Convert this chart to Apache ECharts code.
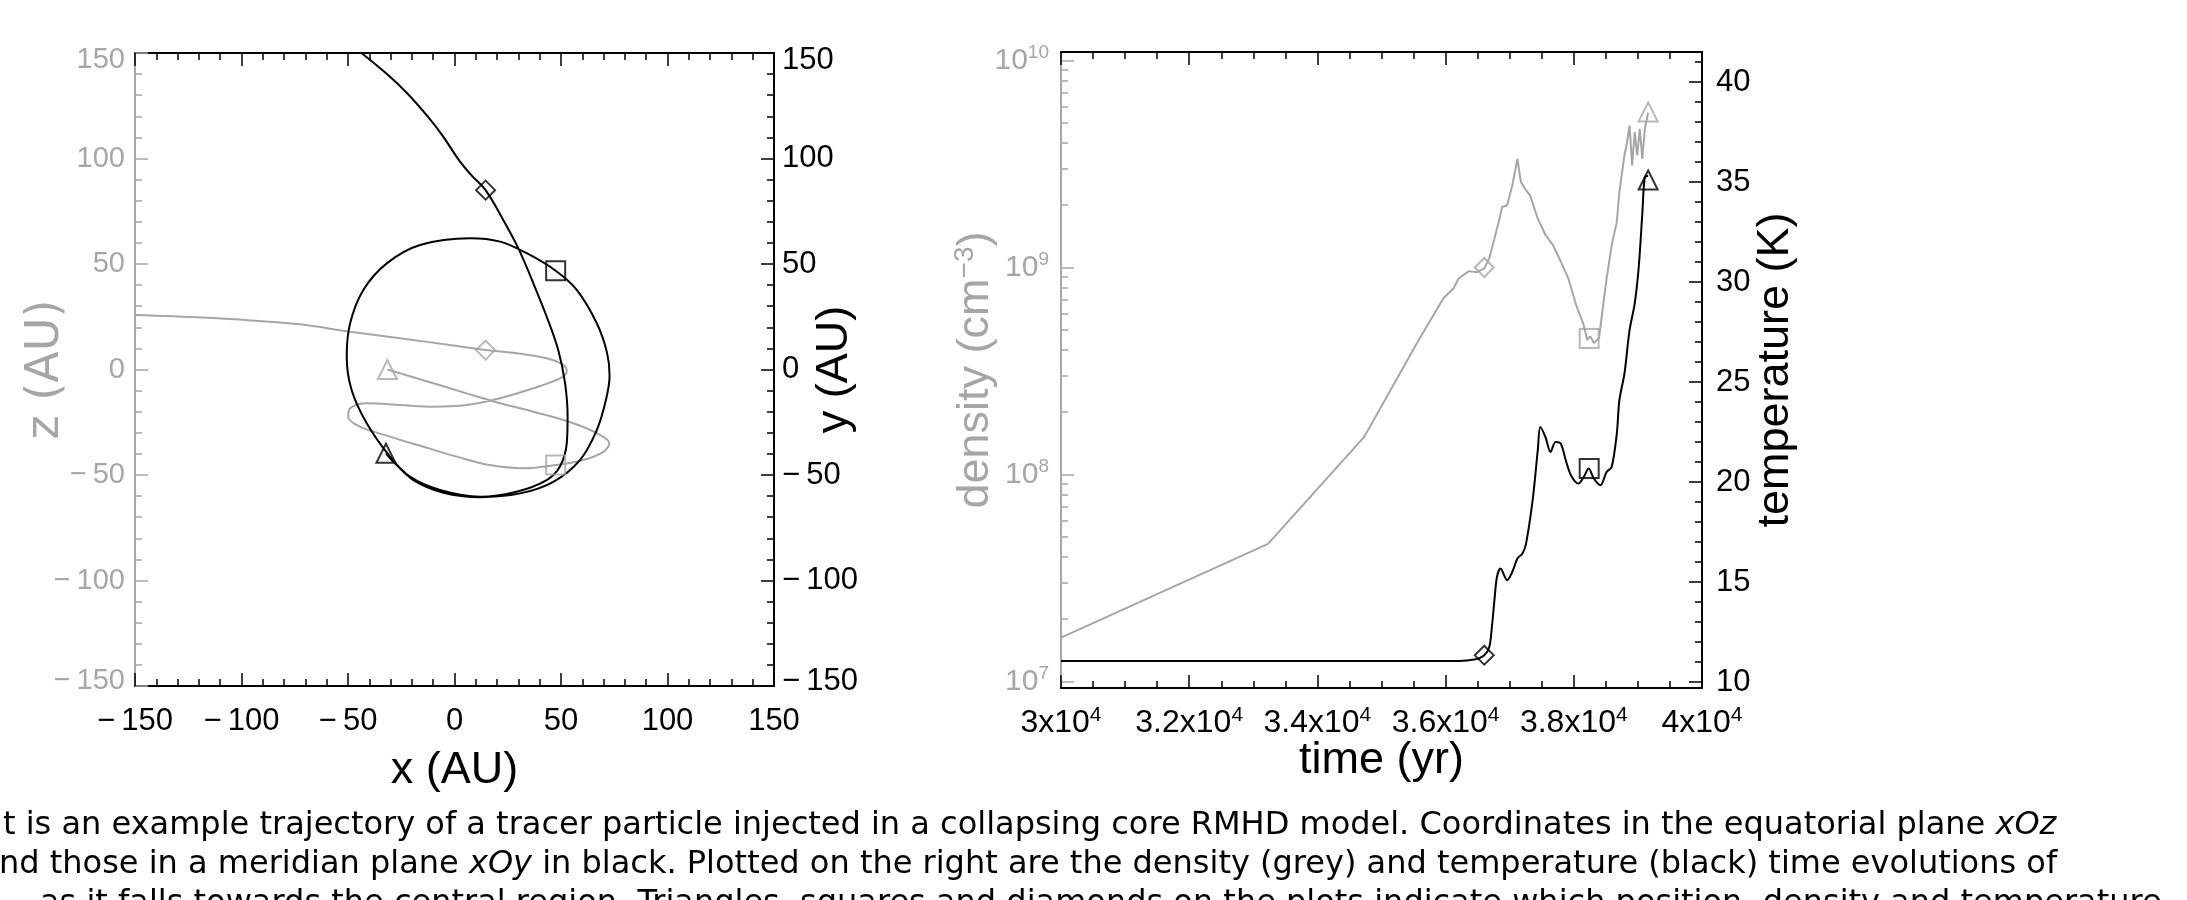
<!DOCTYPE html>
<html><head><meta charset="utf-8">
<script src="https://cdn.jsdelivr.net/npm/echarts@6/dist/echarts.min.js"></script>
<style>html,body{margin:0;padding:0;background:#fff;overflow:hidden}#c{width:2187px;height:900px}</style>
</head><body><div id="c"></div>
<script>
// ---- left panel: trajectory (AU) ----
const xzPath = [[-150,25.8],[-118,24.6],[-94,23.1],[-72.5,21.4],[-49,17.9],[-25.6,14.8],[-2.1,11.6],[14.6,9.2],[29.2,7.7],[43.3,5.3],[51.1,2.1],[52.7,-1.0],[49.5,-4.2],[37,-8.9],[21.4,-13.6],[5.7,-16.8],[-10,-17.6],[-25.6,-16.8],[-41.2,-16],[-49,-18.4],[-49.9,-22.4],[-44.4,-27.1],[-30.3,-31.8],[-14.6,-36.6],[1,-41.3],[16.7,-45.3],[32.3,-46.8],[47.5,-45.3],[60.5,-42.9],[69.9,-39],[72.7,-35],[68.3,-31],[55.8,-25.5],[37,-20],[21.4,-16],[5.7,-11.3],[-10,-6.5],[-25.6,-1.8],[-31.5,0]];
const xyPath = [[-43.7,150],[-31.7,140],[-22,130.7],[-12.5,119.8],[-5.3,110.4],[1.9,99.5],[8,92],[14.6,85],[22.9,70.9],[30,57.4],[37,40.9],[43.3,25],[48.7,9.2],[51.9,-6.5],[53.1,-22.4],[52.7,-35],[49.5,-46],[43.3,-52.4],[29.2,-57.9],[12,-60.3],[-6.8,-57.1],[-20.9,-50.8],[-30.3,-41.3],[-41.2,-25.5],[-48.3,-9.7],[-50.6,6.1],[-49,21.9],[-42.8,37.7],[-31.8,50.3],[-16.2,59],[7.3,62.2],[21.4,60.6],[33.9,55.1],[47.5,46.8],[57.4,37.7],[66.8,21.9],[71.6,8],[72.8,-3],[71.2,-14],[66.8,-28.7],[58.9,-42.9],[46.4,-53.2],[30.8,-58.7],[12,-60.5],[-5.2,-58.4],[-19.3,-52.4],[-28.7,-43.7],[-32.2,-39.7]];
const markerSymbols = ['diamond','rect','triangle'];
const xzMarkers = [[14.6,9.2],[47.5,-45.3],[-31.5,0]];
const xyMarkers = [[14.6,85],[47.5,46.8],[-32.2,-39.7]];

// ---- right panel: time evolution ----
const densityData = [[30000,1.63e7],[33230,4.62e7],[34730,1.52e8],[35569,4.40e8],[35966,7.10e8],[36125,7.94e8],[36205,8.87e8],[36364,9.61e8],[36483,9.48e8],[36603,9.91e8],[36682,1.11e9],[36762,1.38e9],[36841,1.72e9],[36881,1.96e9],[36960,2.00e9],[37040,2.49e9],[37120,3.35e9],[37175,2.59e9],[37239,2.40e9],[37319,2.23e9],[37438,1.72e9],[37557,1.44e9],[37677,1.28e9],[37796,1.07e9],[37915,8.87e8],[38035,6.61e8],[38154,5.28e8],[38209,4.48e8],[38257,4.65e8],[38313,4.32e8],[38393,4.56e8],[38472,7.10e8],[38512,8.87e8],[38591,1.28e9],[38671,1.66e9],[38711,2.32e9],[38790,3.48e9],[38830,4.03e9],[38870,4.85e9],[38910,3.11e9],[38950,4.51e9],[38989,3.48e9],[39029,4.68e9],[39069,3.35e9],[39108,4.68e9],[39160,5.6e9]];
const temperatureData = [[30000,11.05],[36205,11.05],[36444,11.12],[36603,11.34],[36682,11.75],[36722,12.75],[36762,14.09],[36801,15.25],[36857,15.67],[36960,15.09],[37040,15.5],[37120,16.17],[37199,16.42],[37255,16.92],[37358,19.09],[37438,21.59],[37478,22.75],[37557,22.25],[37637,21.5],[37716,22.0],[37796,21.92],[37875,21.09],[37955,20.34],[38074,19.92],[38154,20.25],[38233,20.67],[38313,20.17],[38416,19.84],[38512,20.5],[38591,20.75],[38671,22.42],[38711,24.09],[38790,25.42],[38870,27.59],[38950,28.92],[39013,30.75],[39069,33.42],[39108,35.25],[39160,35.3]];
const densityMarkers = [[36603,1.0e9],[38240,4.54e8],[39160,5.65e9]];
const temperatureMarkers = [[36603,11.34],[38240,20.67],[39160,35.1]];
const densityTicks = [1e7,1e8,1e9,1e10];
const temperatureTicks = [10,15,20,25,30,35,40];

const captionLines = [
  't is an example trajectory of a tracer particle injected in a collapsing core RMHD model. Coordinates in the equatorial plane {i|xOz}',
  'nd those in a meridian plane {i|xOy} in black. Plotted on the right are the density (grey) and temperature (black) time evolutions of',
  'as it falls towards the central region. Triangles, squares and diamonds on the plots indicate which position, density and temperature'
];

const GREY = '#a6a6a6', BLACK = '#000';
const TICKFONT = 'Liberation Sans', CAPFONT = 'DejaVu Sans';
const minus = v => (v < 0 ? '\u2212\u2009' + (-v) : String(v));

const densityMinor = [];
for (let e = 6; e <= 9; e++) for (let k = 2; k <= 9; k++) densityMinor.push(k * Math.pow(10, e));
const temperatureMinor = [];
for (let t = 10; t <= 41; t++) temperatureMinor.push(t);

function frameAxis(o) {
  const col = o.color || BLACK;
  return Object.assign({
    type: 'value', splitLine: {show: false}, nameMoveOverlap: false,
    axisLine: {show: true, onZero: false, lineStyle: {color: col, width: 2}},
    axisTick: {show: true, inside: true, length: 13, lineStyle: {color: col, width: 1.5}},
    minorTick: {show: false},
    axisLabel: {show: false}
  }, o.opts);
}
const lbl = (color, size, margin, extra) => Object.assign({show: true, color: color, fontFamily: TICKFONT, fontSize: size, margin: margin, formatter: minus}, extra || {});
const minorT = (col, n) => ({show: true, splitNumber: n, length: 7, lineStyle: {color: col, width: 1.5}});
// end labels of the square panel sit just inside the frame
const edgeLabel = (color, size, margin) => lbl(color, size, margin, {
  formatter: v => (v === 150 ? '{t|150}' : v === -150 ? '{b|' + minus(v) + '}' : minus(v)),
  rich: {t: {fontFamily: TICKFONT, fontSize: size, color: color, padding: [14, 0, 0, 0]},
         b: {fontFamily: TICKFONT, fontSize: size, color: color, padding: [0, 0, 10, 0]}}
});
const titleStyle = (color, extra) => Object.assign({color: color, fontFamily: TICKFONT, fontSize: 45}, extra || {});

const chart = echarts.init(document.getElementById('c'), null, {renderer: 'canvas'});
const option = {
  animation: false,
  backgroundColor: '#fff',
  grid: [
    {left: 135, top: 53, width: 639, height: 633},
    {left: 1061, top: 52, width: 641, height: 636}
  ],
  xAxis: [
    frameAxis({opts: {gridIndex: 0, position: 'bottom', min: -150, max: 150, interval: 50, minorTick: minorT(BLACK, 5),
      axisLabel: lbl(BLACK, 31, 20), name: 'x (AU)', nameLocation: 'middle', nameGap: 62,
      nameTextStyle: titleStyle(BLACK)}}),
    frameAxis({opts: {gridIndex: 0, position: 'top', min: -150, max: 150, interval: 50, minorTick: minorT(BLACK, 5)}}),
    frameAxis({opts: {gridIndex: 1, position: 'bottom', min: 30000, max: 40000, interval: 2000, minorTick: minorT(BLACK, 4),
      axisLabel: lbl(BLACK, 32, 17, {formatter: v => '{m|' + (v / 1e4) + 'x10}{s|4}', rich: {m: {fontFamily: TICKFONT, fontSize: 32, color: BLACK, lineHeight: 36}, s: {fontFamily: TICKFONT, fontSize: 21, color: BLACK, verticalAlign: 'top', lineHeight: 36}}}),
      name: 'time (yr)', nameLocation: 'middle', nameGap: 50,
      nameTextStyle: titleStyle(BLACK)}}),
    frameAxis({opts: {gridIndex: 1, position: 'top', min: 30000, max: 40000, interval: 2000, minorTick: minorT(BLACK, 4)}})
  ],
  yAxis: [
    frameAxis({color: GREY, opts: {gridIndex: 0, position: 'left', min: -150, max: 150, interval: 50, minorTick: minorT(GREY, 5),
      axisLabel: edgeLabel(GREY, 29, 10), name: 'z (AU)', nameLocation: 'middle', nameGap: 66,
      nameTextStyle: titleStyle(GREY, {fontFamily: CAPFONT, fontSize: 46})}}),
    frameAxis({opts: {gridIndex: 0, position: 'right', min: -150, max: 150, interval: 50, minorTick: minorT(BLACK, 5),
      axisLabel: edgeLabel(BLACK, 31, 8), name: 'y (AU)', nameLocation: 'middle', nameGap: 38,
      nameTextStyle: titleStyle(BLACK)}}),
    frameAxis({color: GREY, opts: {gridIndex: 1, position: 'left', type: 'log', logBase: 10, min: 9.3e6, max: 1.1e10,
      axisTick: {show: true, inside: true, length: 13, customValues: densityTicks, lineStyle: {color: GREY, width: 1.5}},
      axisLabel: lbl(GREY, 30, 12, {customValues: densityTicks, formatter: v => '{m|10}{s|' + Math.round(Math.log10(v)) + '}',
        rich: {m: {fontFamily: TICKFONT, fontSize: 30, color: GREY, lineHeight: 34}, s: {fontFamily: TICKFONT, fontSize: 19, color: GREY, verticalAlign: 'top', lineHeight: 34}}}),
      name: 'density (cm{s|\u22123})', nameLocation: 'middle', nameGap: 60,
      nameTextStyle: titleStyle(GREY, {rich: {s: {fontFamily: TICKFONT, fontSize: 28, color: GREY, verticalAlign: 'top', lineHeight: 50}}})}}),
    frameAxis({color: GREY, opts: {gridIndex: 1, position: 'left', type: 'log', logBase: 10, min: 9.3e6, max: 1.1e10,
      axisTick: {show: true, inside: true, length: 7, customValues: densityMinor, lineStyle: {color: GREY, width: 1.5}}}}),
    frameAxis({opts: {gridIndex: 1, position: 'right', min: 9.7, max: 41.5,
      axisTick: {show: true, inside: true, length: 13, customValues: temperatureTicks, lineStyle: {color: BLACK, width: 1.5}},
      axisLabel: lbl(BLACK, 31, 14, {customValues: temperatureTicks}),
      name: 'temperature (K)', nameLocation: 'middle', nameGap: 51,
      nameTextStyle: titleStyle(BLACK)}}),
    frameAxis({opts: {gridIndex: 1, position: 'right', min: 9.7, max: 41.5,
      axisTick: {show: true, inside: true, length: 7, customValues: temperatureMinor, lineStyle: {color: BLACK, width: 1.5}}}})
  ],
  series: [
    {type: 'line', xAxisIndex: 0, yAxisIndex: 0, data: xzPath, showSymbol: false, smooth: 0.35, clip: true, lineStyle: {color: GREY, width: 2}},
    {type: 'line', xAxisIndex: 0, yAxisIndex: 1, data: xyPath, showSymbol: false, smooth: 0.35, clip: true, lineStyle: {color: BLACK, width: 2}},
    {type: 'scatter', xAxisIndex: 0, yAxisIndex: 0, symbolSize: 19, z: 5,
      data: xzMarkers.map((p, i) => ({value: p, symbol: markerSymbols[i]})),
      itemStyle: {color: 'rgba(255,255,255,0)', borderColor: GREY, borderWidth: 2}},
    {type: 'scatter', xAxisIndex: 0, yAxisIndex: 1, symbolSize: 19, z: 5,
      data: xyMarkers.map((p, i) => ({value: p, symbol: markerSymbols[i]})),
      itemStyle: {color: 'rgba(255,255,255,0)', borderColor: BLACK, borderWidth: 2}},
    {type: 'line', xAxisIndex: 2, yAxisIndex: 2, data: densityData, showSymbol: false, clip: true, lineStyle: {color: GREY, width: 2}},
    {type: 'line', xAxisIndex: 2, yAxisIndex: 4, data: temperatureData, showSymbol: false, smooth: 0.3, clip: true, lineStyle: {color: BLACK, width: 2}},
    {type: 'scatter', xAxisIndex: 2, yAxisIndex: 2, symbolSize: 19, z: 5,
      data: densityMarkers.map((p, i) => ({value: p, symbol: markerSymbols[i]})),
      itemStyle: {color: 'rgba(255,255,255,0)', borderColor: GREY, borderWidth: 2}},
    {type: 'scatter', xAxisIndex: 2, yAxisIndex: 4, symbolSize: 19, z: 5,
      data: temperatureMarkers.map((p, i) => ({value: p, symbol: markerSymbols[i]})),
      itemStyle: {color: 'rgba(255,255,255,0)', borderColor: BLACK, borderWidth: 2}}
  ],
  graphic: captionLines.map((t, i) => ({
    type: 'text', x: [3, -1, 40][i], y: 826 + 39 * i,
    style: {text: t, fontFamily: CAPFONT, fontSize: 32, fill: BLACK, verticalAlign: 'middle',
      rich: {i: {fontFamily: CAPFONT, fontSize: 32, fontStyle: 'italic', fill: BLACK}}}
  }))
};
chart.setOption(option);
</script></body></html>
